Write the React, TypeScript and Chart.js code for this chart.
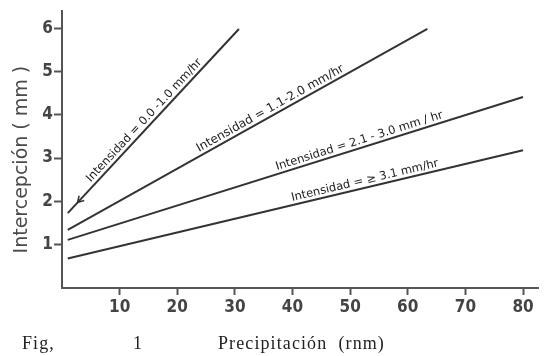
import React, { useEffect, useRef } from "react";
import { Chart, registerables } from "chart.js";

Chart.register(...registerables);

// ---- data ----
const xTicks = [10, 20, 30, 40, 50, 60, 70, 80];
const yTicks = [1, 2, 3, 4, 5, 6];
const seriesNames = [
  "Intensidad = 0.0 -1.0 mm/hr",
  "Intensidad = 1.1-2.0 mm/hr",
  "Intensidad = 2.1 - 3.0 mm / hr",
  "Intensidad = \u2265 3.1 mm/hr",
];
const line1X = [1.0, 30.7];
const line1Y = [1.73, 5.98];
const line2X = [1.0, 63.4];
const line2Y = [1.34, 5.98];
const line3X = [1.0, 80.0];
const line3Y = [1.11, 4.41];
const line4X = [1.0, 80.0];
const line4Y = [0.68, 3.18];
const labelStartX = [5.5, 24.1, 37.5, 40.1];
const arrowX = 2.7;
const yTitle = "Intercepción ( mm )";
const xMin = 0;
const xMax = 82.6;
const yMin = 0;
const yMax = 6.39;

const seriesX = [line1X, line2X, line3X, line4X];
const seriesY = [line1Y, line2Y, line3Y, line4Y];

const INK = "#333";

const lineLabels = {
  id: "lineLabels",
  afterDatasetsDraw(chart: any) {
    const { ctx, scales } = chart;
    ctx.save();
    ctx.fillStyle = "#222";
    ctx.strokeStyle = INK;
    ctx.textBaseline = "alphabetic";
    ctx.textAlign = "left";
    seriesNames.forEach((name, i) => {
      const meta = chart.getDatasetMeta(i);
      const p0 = meta.data[0];
      const p1 = meta.data[1];
      const ang = Math.atan2(p1.y - p0.y, p1.x - p0.x);
      const px = scales.x.getPixelForValue(labelStartX[i]);
      const py = p0.y + ((px - p0.x) * (p1.y - p0.y)) / (p1.x - p0.x);
      ctx.save();
      ctx.font = (i === 1 ? "12px" : "11.5px") + " 'DejaVu Sans', sans-serif";
      ctx.translate(px, py);
      ctx.rotate(ang);
      ctx.fillText(name, 0, -4);
      ctx.restore();
      if (i === 0) {
        const ax = scales.x.getPixelForValue(arrowX);
        const ay = p0.y + ((ax - p0.x) * (p1.y - p0.y)) / (p1.x - p0.x);
        ctx.save();
        ctx.translate(ax, ay);
        ctx.rotate(ang);
        ctx.lineWidth = 1.5;
        ctx.beginPath();
        ctx.moveTo(6, -3.5);
        ctx.lineTo(0, 0);
        ctx.lineTo(6, 3.5);
        ctx.stroke();
        ctx.restore();
      }
    });
    // y axis title
    const ca = chart.chartArea;
    ctx.save();
    ctx.translate(ca.left - 40, (ca.top + ca.bottom) / 2 + 10);
    ctx.rotate(-Math.PI / 2);
    ctx.textAlign = "center";
    ctx.textBaseline = "middle";
    ctx.fillStyle = "#4a4a4a";
    ctx.font = "19px 'DejaVu Sans', sans-serif";
    ctx.fillText(yTitle, 0, 0);
    ctx.restore();
    ctx.restore();
  },
};

const tickFont = {
  family: "'Liberation Sans Narrow', 'DejaVu Sans Condensed', Roboto, sans-serif",
  size: 17,
  weight: "bold" as const,
};

export default function App() {
  const ref = useRef<HTMLCanvasElement | null>(null);
  useEffect(() => {
    document.body.style.margin = "0";
    if (!ref.current) return;
    const chart = new Chart(ref.current, {
      type: "scatter",
      data: {
        datasets: seriesNames.map((name, i) => ({
          label: name,
          data: seriesX[i].map((x, j) => ({ x, y: seriesY[i][j] })),
          showLine: true,
          borderColor: INK,
          borderWidth: 2,
          pointRadius: 0,
          fill: false,
        })),
      },
      options: {
        animation: false,
        responsive: false,
        layout: { padding: { top: 7, right: 7, left: 0, bottom: 0 } },
        plugins: { legend: { display: false }, tooltip: { enabled: false } },
        scales: {
          x: {
            type: "linear",
            min: xMin,
            max: xMax,
            afterBuildTicks: (s: any) => {
              s.ticks = xTicks.map((v) => ({ value: v }));
            },
            afterFit: (s: any) => {
              s.height = 68;
            },
            grid: {
              drawOnChartArea: false,
              drawTicks: true,
              tickLength: 7,
              tickWidth: 2,
              tickColor: "#555",
            },
            border: { display: true, color: "#555", width: 2 },
            ticks: {
              padding: 2,
              color: "#444",
              font: tickFont,
              maxRotation: 0,
              autoSkip: false,
            },
          },
          y: {
            type: "linear",
            min: yMin,
            max: yMax,
            afterBuildTicks: (s: any) => {
              s.ticks = yTicks.map((v) => ({ value: v }));
            },
            afterFit: (s: any) => {
              s.width = 62;
            },
            grid: {
              drawOnChartArea: false,
              drawTicks: true,
              tickLength: 8,
              tickWidth: 2,
              tickColor: "#555",
            },
            border: { display: true, color: "#555", width: 2 },
            ticks: {
              padding: 1,
              color: "#444",
              font: tickFont,
              autoSkip: false,
            },
          },
        },
      },
      plugins: [lineLabels],
    });
    return () => chart.destroy();
  }, []);

  const cap: React.CSSProperties = {
    position: "absolute",
    top: 333,
    fontFamily: "'Liberation Serif', 'Times New Roman', serif",
    fontSize: 18,
    letterSpacing: "1.1px",
    color: "#222",
    whiteSpace: "pre",
  };

  return (
    <div style={{ position: "absolute", left: 0, top: 0, width: 545, height: 356, background: "#fff" }}>
      <canvas ref={ref} width={545} height={356} style={{ position: "absolute", left: 0, top: 0 }} />
      <span style={{ ...cap, left: 22 }}>Fig,</span>
      <span style={{ ...cap, left: 133 }}>1</span>
      <span style={{ ...cap, left: 218 }}>Precipitación  (rnm)</span>
    </div>
  );
}
